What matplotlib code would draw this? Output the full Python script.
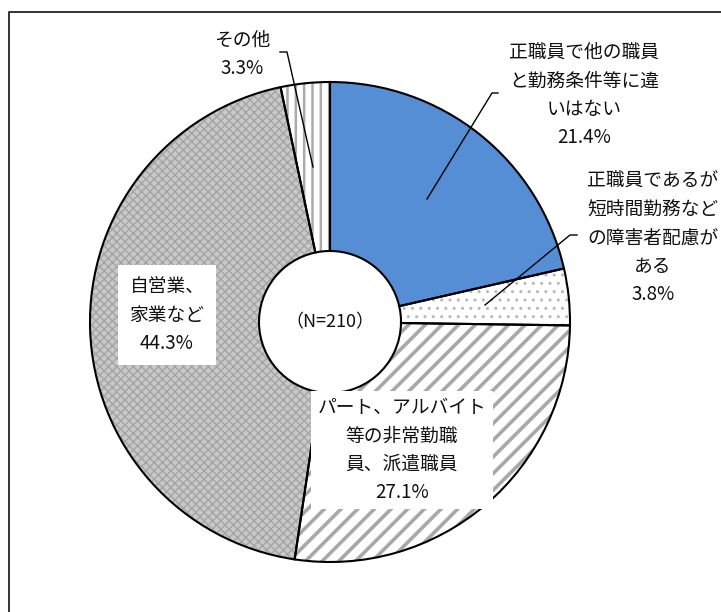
import matplotlib
matplotlib.use("Agg")
import matplotlib.pyplot as plt

plt.rcParams['font.family'] = ['Noto Sans CJK JP', 'DejaVu Sans']

# ---- data ----
categories = [
    "正職員で他の職員\nと勤務条件等に違\nいはない",
    "正職員であるが\n短時間勤務など\nの障害者配慮が\nある",
    "パート、アルバイト\n等の非常勤職\n員、派遣職員",
    "自営業、\n家業など",
    "その他",
]
values = [21.4, 3.8, 27.1, 44.3, 3.3]
n_label = "（N=210）"

# ---- styles ----
face_colors = ["#558ED5", "#FFFFFF", "#FFFFFF", "#C9C9C9", "#FFFFFF"]
hatch_colors = ["#558ED5", "#B8B8B8", "#A8A8A8", "#A4A4A4", "#ABABAB"]
hatches = [None, "..", "//", "xxxx", "||"]
hatch_lw = [1.0, 1.0, 2.6, 1.0, 1.8]

W, H = 721, 612
fig = plt.figure(figsize=(W / 100, H / 100), dpi=100)
ax = fig.add_axes([0, 0, 1, 1])

def Y(py):
    return H - py

cx, cy = 330, Y(322)
R = 240
r_hole = 71

# frame (right and bottom edges lie outside the picture)
ax.plot([9, 9, W + 5], [Y(H + 5), Y(12), Y(12)], color="#333333", lw=1.4)

# filled + hatched wedges
wedges, _ = ax.pie(values, startangle=90, counterclock=False, center=(cx, cy),
                   radius=R, colors=face_colors, frame=True,
                   wedgeprops=dict(width=R - r_hole, linewidth=0))
for w, hc, h, hl in zip(wedges, hatch_colors, hatches, hatch_lw):
    w.set_edgecolor(hc)
    w.set_linewidth(0)
    if h:
        w.set_hatch(h)
        if hasattr(w, "set_hatch_linewidth"):
            w.set_hatch_linewidth(hl)

# outlines
ax.pie(values, startangle=90, counterclock=False, center=(cx, cy),
       radius=R, frame=True,
       wedgeprops=dict(width=R - r_hole, fill=False, edgecolor="black", linewidth=1.5))

ax.set_xlim(0, W)
ax.set_ylim(0, H)
ax.set_aspect('equal')
ax.axis('off')

tc = "#111111"
# center label
ax.text(cx, cy, n_label, ha='center', va='center', fontsize=13, color=tc)

pct = [f"{v:.1f}%" for v in values]
fs = 13.5
ls = 1.45

# label 0 (blue) outside, upper right
ax.text(584, Y(95), categories[0] + "\n" + pct[0], ha='center', va='center',
        fontsize=fs, linespacing=ls, color=tc)
ax.plot([498, 492, 427], [Y(93), Y(93), Y(199)], color='black', lw=1)

# label 1 (dotted) outside right
ax.text(653, Y(238), categories[1] + "\n" + pct[1], ha='center', va='center',
        fontsize=fs, linespacing=ls, color=tc)
ax.plot([577, 570, 485], [Y(235), Y(235), Y(305)], color='black', lw=1)

# label 2 (diagonal) inside with white box
ax.text(402, Y(450), categories[2] + "\n" + pct[2], ha='center', va='center',
        fontsize=fs, linespacing=ls, color=tc,
        bbox=dict(boxstyle='square,pad=0.35', facecolor='white', edgecolor='none'))

# label 3 (cross) inside with white box
ax.text(167, Y(315), categories[3] + "\n" + pct[3], ha='center', va='center',
        fontsize=fs, linespacing=ls, color=tc,
        bbox=dict(boxstyle='square,pad=0.6', facecolor='white', edgecolor='none'))

# label 4 (other) outside top
ax.text(242, Y(54), categories[4] + "\n" + pct[4], ha='center', va='center',
        fontsize=fs, linespacing=ls, color=tc)
ax.plot([280, 287, 313], [Y(52), Y(52), Y(167)], color='black', lw=1)

fig.savefig("out.png", dpi=100)
